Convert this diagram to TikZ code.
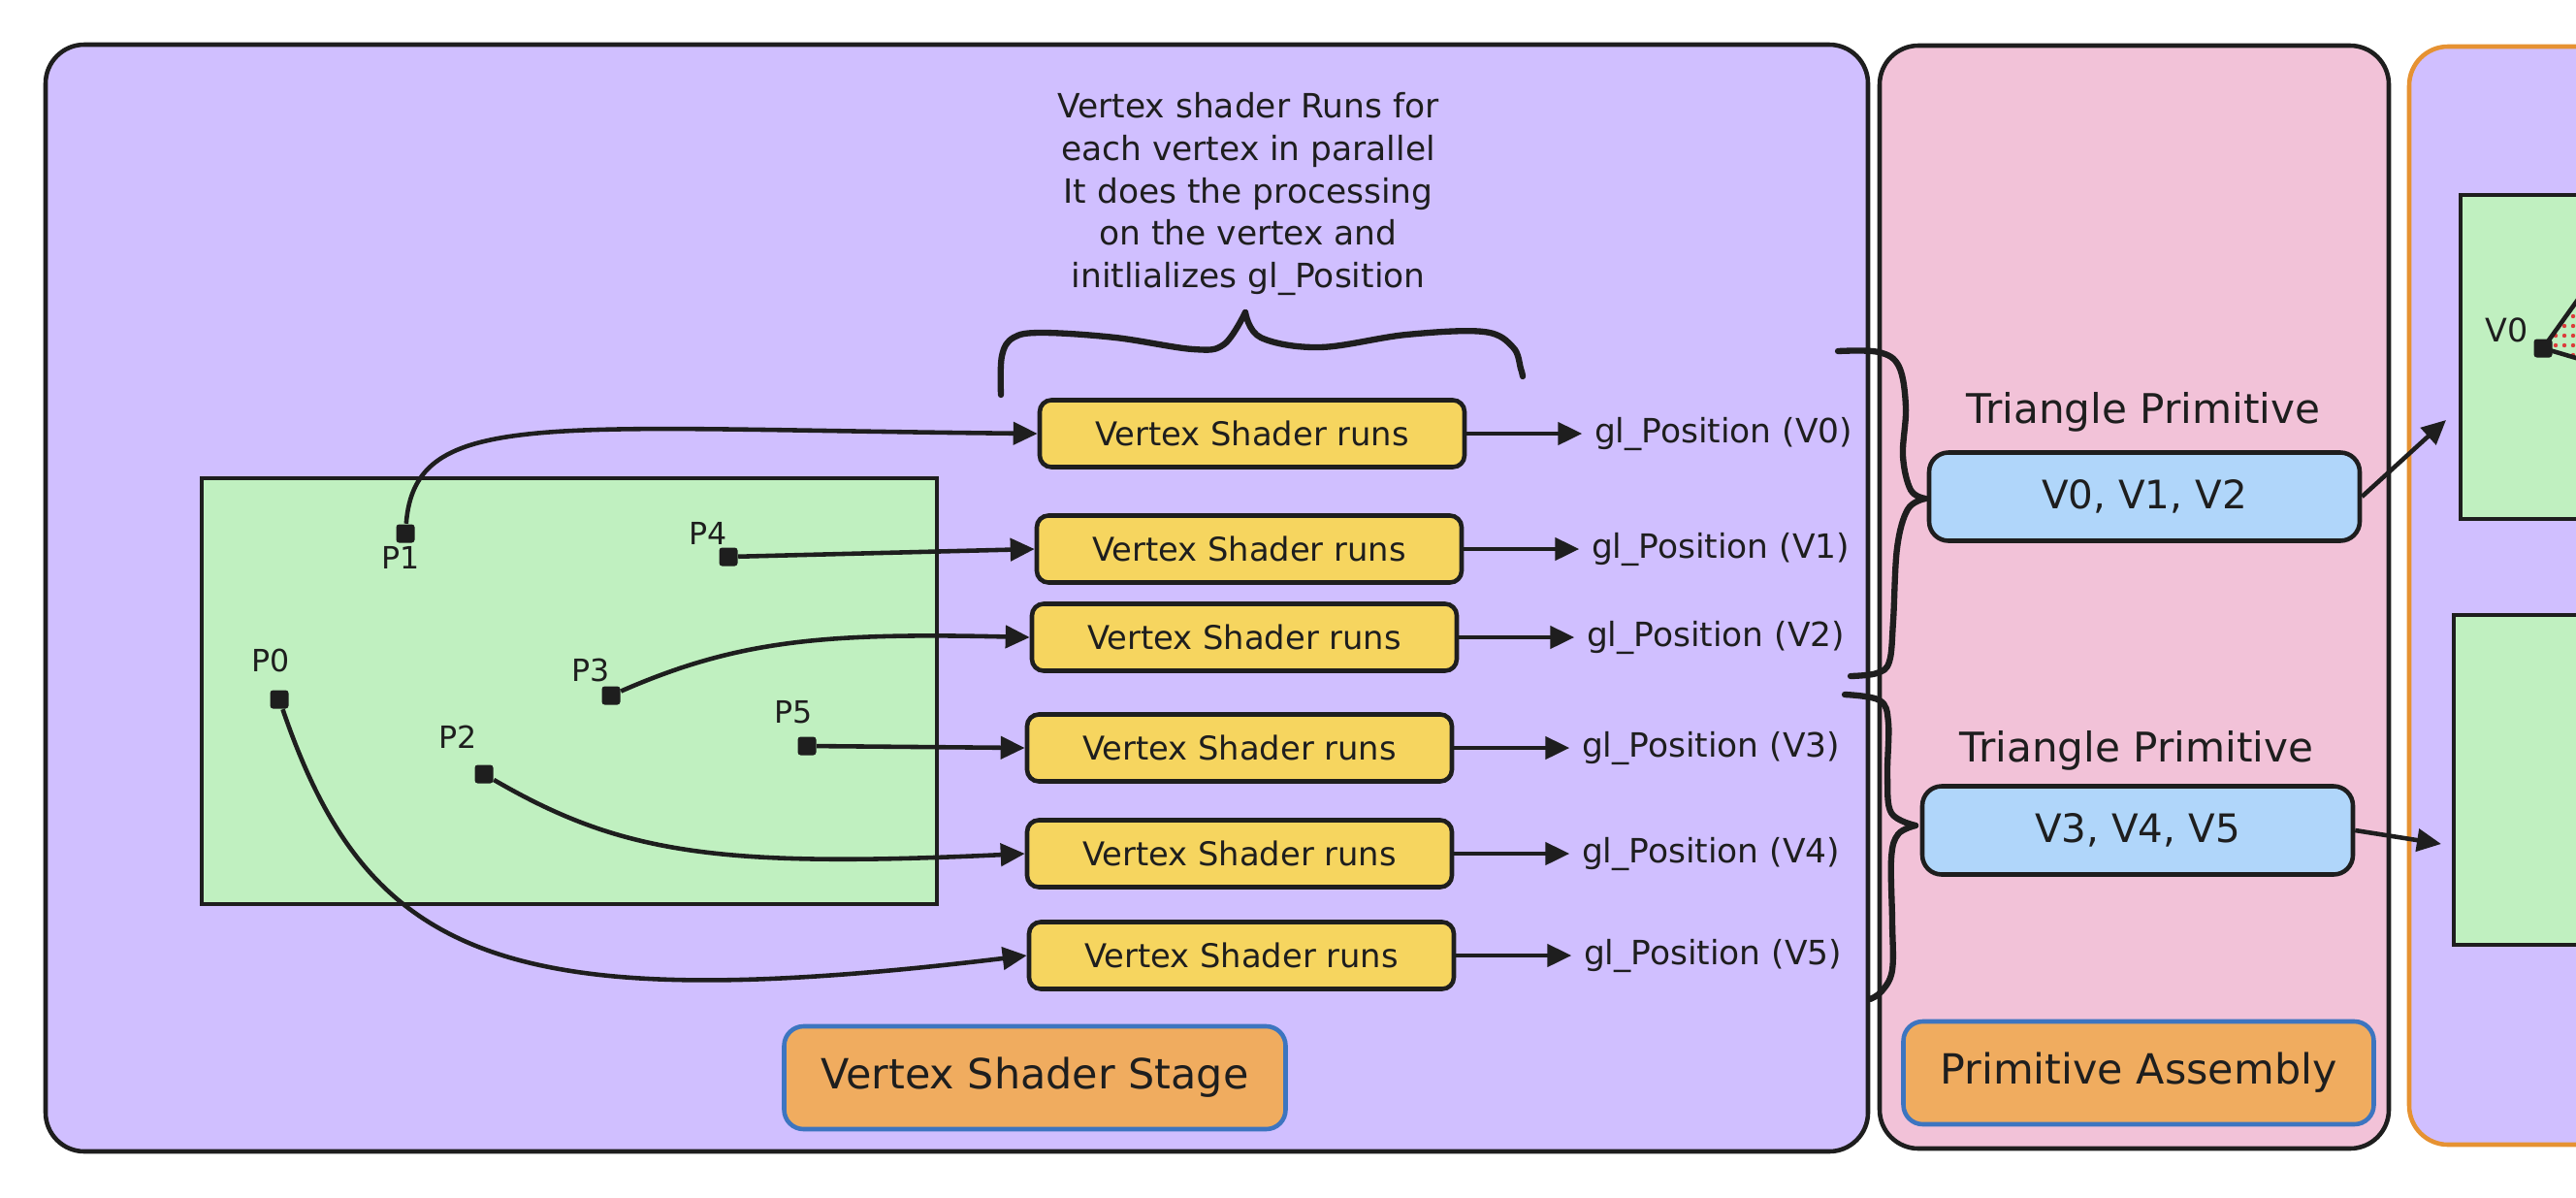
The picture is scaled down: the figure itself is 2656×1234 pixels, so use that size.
\documentclass[tikz,border=0pt]{standalone}
\usepackage{fontspec}
\setmainfont{DejaVu Sans}
\usetikzlibrary{arrows.meta, positioning}

\definecolor{inkgray}{HTML}{1E1E1E}
\definecolor{stagepurple}{HTML}{D0BFFF}
\definecolor{asmpink}{HTML}{F2C2D8}
\definecolor{screengreen}{HTML}{C0F0C0}
\definecolor{shaderyellow}{HTML}{F6D55F}
\definecolor{primblue}{HTML}{B0D6FA}
\definecolor{tagorange}{HTML}{F0AC5F}
\definecolor{tagblue}{HTML}{3D75C0}
\definecolor{rasterorange}{HTML}{E69232}
\definecolor{dotred}{HTML}{DC3C3C}

\begin{document}
\begin{tikzpicture}[
    x=0.1mm, y=-0.1mm,
    panel/.style={draw=inkgray, line width=1.3pt, rounded corners=4mm},
    screen/.style={draw=inkgray, line width=1.4pt, fill=screengreen},
    vertex/.style={rectangle, fill=inkgray, minimum size=1.9mm, inner sep=0pt, rounded corners=0.3mm},
    plabel/.style={font=\fontsize{9}{10}\selectfont, text=inkgray, inner sep=0pt},
    shader/.style={rectangle, draw=inkgray, fill=shaderyellow, line width=1.3pt, rounded corners=1.2mm, minimum width=43.8mm, minimum height=6.9mm, font=\fontsize{9.6}{11}\selectfont, text=inkgray},
    glpos/.style={inner xsep=1.2mm, inner ysep=0.5mm, font=\fontsize{9.8}{11}\selectfont, text=inkgray},
    prim/.style={rectangle, draw=inkgray, fill=primblue, line width=1.3pt, rounded corners=2mm, minimum width=44.4mm, minimum height=9.1mm, font=\fontsize{11.5}{13}\selectfont, text=inkgray},
    primtitle/.style={font=\fontsize{12}{14}\selectfont, text=inkgray},
    stagetag/.style={rectangle, draw=tagblue, fill=tagorange, line width=1.3pt, rounded corners=2mm, minimum height=10.6mm, font=\fontsize{12.2}{14}\selectfont, text=inkgray},
    link/.style={draw=inkgray, line width=1.3pt, -{Triangle[length=2.5mm, width=2.3mm]}},
    curly/.style={draw=inkgray, line width=1.8pt, line cap=round, line join=round}
]
\useasboundingbox (0,0) rectangle (2656,1234);
\clip (0,0) rectangle (2656,1234);

% Stage panels
\draw[panel, fill=stagepurple] (47,46) rectangle (1926,1187);
\draw[panel, fill=asmpink] (1938,47) rectangle (2463,1184);
\draw[panel, draw=rasterorange, fill=stagepurple] (2484,48) rectangle (2800,1180);

% Screens
\draw[screen] (208,493) rectangle (966,932);
\draw[screen] (2537,201) rectangle (2800,535);
\draw[screen] (2530,634) rectangle (2800,974);

% Input vertices
\node[vertex] (p0) at (288,721) {};
\node[vertex] (p1) at (418,550) {};
\node[vertex] (p2) at (499,798) {};
\node[vertex] (p3) at (630,717) {};
\node[vertex] (p4) at (751,574) {};
\node[vertex] (p5) at (832,769) {};
\node[plabel] (p0lbl) at (279,681) {P0};
\node[plabel] (p1lbl) at (413,575) {P1};
\node[plabel] (p2lbl) at (472,760) {P2};
\node[plabel] (p3lbl) at (609,691) {P3};
\node[plabel] (p4lbl) at (730,550) {P4};
\node[plabel] (p5lbl) at (818,734) {P5};

% Vertex shader invocations
\node[shader] (vs0) at (1291,447) {Vertex Shader runs};
\node[shader] (vs1) at (1288,566) {Vertex Shader runs};
\node[shader] (vs2) at (1283,657) {Vertex Shader runs};
\node[shader] (vs3) at (1278,771) {Vertex Shader runs};
\node[shader] (vs4) at (1278,880) {Vertex Shader runs};
\node[shader] (vs5) at (1280,985) {Vertex Shader runs};

\node[glpos, right=11.9mm of vs0] (gl0) {gl\_Position (V0)};
\node[glpos, right=11.9mm of vs1] (gl1) {gl\_Position (V1)};
\node[glpos, right=11.9mm of vs2] (gl2) {gl\_Position (V2)};
\node[glpos, right=11.9mm of vs3] (gl3) {gl\_Position (V3)};
\node[glpos, right=11.9mm of vs4] (gl4) {gl\_Position (V4)};
\node[glpos, right=11.9mm of vs5] (gl5) {gl\_Position (V5)};

\node[align=center, font=\fontsize{9.8}{12.4}\selectfont, text=inkgray] (note) at (1287,200) {Vertex shader Runs for\\each vertex in parallel\\It does the processing\\on the vertex and\\initlializes gl\_Position};

% Primitive assembly
\node[primtitle] (tri0title) at (2210,425) {Triangle Primitive};
\node[prim] (tri0) at (2211,512) {V0, V1, V2};
\node[primtitle] (tri1title) at (2203,774) {Triangle Primitive};
\node[prim] (tri1) at (2204,856) {V3, V4, V5};

% Stage tags
\node[stagetag, minimum width=51.7mm] (vstag) at (1067,1111) {Vertex Shader Stage};
\node[stagetag, minimum width=48.5mm] (patag) at (2205,1106) {Primitive Assembly};

% Rasterized triangle
\begin{scope}
  \clip (2622,359) -- (2700,250) -- (2700,382) -- cycle;
  \foreach \dx in {0,...,10}
    \foreach \dy in {0,...,15}
      \fill[dotred] (2626+\dx*9, 246+\dy*10) circle (0.22mm);
\end{scope}
\draw[inkgray, line width=1.3pt] (2700,250) -- (2622,359) -- (2700,382);
\node[vertex] (v0) at (2622,359) {};
\node[plabel, font=\fontsize{9.5}{11}\selectfont] (v0lbl) at (2585,340) {V0};
\coordinate (hitA) at (2522,433);
\coordinate (hitB) at (2517,870);

% Edges
\draw[link] (p1) .. controls (428,420) and (560,442) .. (vs0.west);
\draw[link] (p4) -- (vs1.west);
\draw[link] (p3) .. controls (760,660) and (850,652) .. (vs2.west);
\draw[link] (p5) -- (vs3.west);
\draw[link] (p2) .. controls (640,880) and (740,895) .. (vs4.west);
\draw[link] (p0) .. controls (380,990) and (520,1050) .. (vs5.west);
\draw[link] (vs0) -- (gl0);
\draw[link] (vs1) -- (gl1);
\draw[link] (vs2) -- (gl2);
\draw[link] (vs3) -- (gl3);
\draw[link] (vs4) -- (gl4);
\draw[link] (vs5) -- (gl5);
\draw[link] (tri0.east) -- (hitA);
\draw[link] (tri1.east) -- (hitB);

% Braces
\draw[curly] plot[smooth, tension=0.6] coordinates {(1032,407) (1033,367) (1045,348) (1075,343) (1150,348) (1230,360) (1262,355) (1284,322)};
\draw[curly] plot[smooth, tension=0.6] coordinates {(1284,322) (1300,348) (1361,358) (1450,345) (1530,342) (1560,358) (1568,380) (1570,388)};
\draw[curly] plot[smooth, tension=0.6] coordinates {(1895,362) (1937,363) (1958,378) (1965,420) (1962,470) (1970,505) (1985,514)};
\draw[curly] plot[smooth, tension=0.6] coordinates {(1985,514) (1967,525) (1956,565) (1952,640) (1948,682) (1935,694) (1908,697)};
\draw[curly] plot[smooth, tension=0.6] coordinates {(1902,716) (1938,722) (1947,745) (1946,800) (1950,838) (1975,851)};
\draw[curly] plot[smooth, tension=0.6] coordinates {(1975,851) (1957,860) (1950,885) (1951,950) (1951,1000) (1940,1022) (1928,1030)};

\end{tikzpicture}
\end{document}
